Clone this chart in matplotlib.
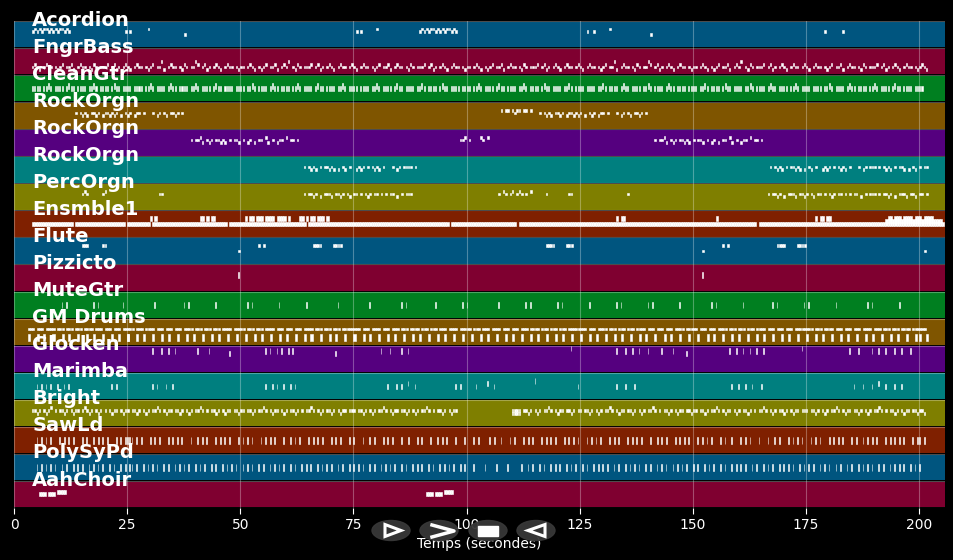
import matplotlib
matplotlib.use("Agg")
import matplotlib.pyplot as plt
from matplotlib.patches import Ellipse, Polygon, Rectangle

tracks = ["Acordion", "FngrBass", "CleanGtr", "RockOrgn", "RockOrgn", "RockOrgn",
          "PercOrgn", "Ensmble1", "Flute", "Pizzicto", "MuteGtr", "GM Drums",
          "Glocken", "Marimba", "Bright", "SawLd", "PolySyPd", "AahChoir"]

band_colors = ["#00557f", "#7f0030", "#007f20", "#7f5500", "#55007f", "#007f7f",
               "#7f7f00", "#7f2000", "#00557f", "#7f0030", "#007f20", "#7f5500",
               "#55007f", "#007f7f", "#7f7f00", "#7f2000", "#00557f", "#7f0030"]

# notes read off the roll: (start second, pattern[, height])
# one character = half a second, digit = pitch height inside the band (tenths), "." = rest
acordion = [(4.0, "67676776767677676"), (24.5, "6.6"), (29.5, "7"), (37.5, "5"),
            (75.5, "6.6"), (80.0, "7"), (89.5, "67676776767677676"), (126.5, "6..6"),
            (131.5, "7"), (140.5, "5"), (179.0, "6"), (183.0, "6")]

fngrbass = [(4.0, "3432.3433.3234.3342.3433.3243.3334.3423.34"),
            (25.0, "32.3433.3234.3352.3433.3243.3354.3423.3432.3433.32"),
            (50.0, "33.3432.3234.3342.3435.3243.3334.3423.3432.3433.34"),
            (75.0, "32.3433.3234.3342.3433.3243.3334.3423.3432.3433.32"),
            (100.0, "33.3432.3234.3342.3433.3243.3334.3423.3432.3433.34"),
            (125.0, "32.3433.3234.3352.3433.3243.3354.3423.3432.3433.32"),
            (150.0, "33.3432.3234.3342.3435.3243.3334.3423.3432.3433.34"),
            (175.0, "32.3433.3234.3342.3433.3243.3334.3423.3432.3433.32"),
            (200.0, "3432.")]

cleangtr = [(4.0, "5555.5565.5555.5655.5555.5565.5555.5655.55"),
            (25.0, "55.5555.5565.5555.5655.5555.5565.5555.5655.5555.55"),
            (50.0, "55.5565.5555.5655.5555.5565.5555.5655.5555.5565.55"),
            (75.0, "55.5555.5565.5555.5655.5555.5565.5555.5655.5555.55"),
            (100.0, "55.5565.5555.5655.5555.5565.5555.5655.5555.5565.55"),
            (125.0, "55.5555.5565.5555.5655.5555.5565.5555.5655.5555.55"),
            (150.0, "55.5565.5555.5655.5555.5565.5555.5655.5555.5565.55"),
            (175.0, "55.5555.5565.5555.5655.5555.5565.5555.5655.5555.55"),
            (200.0, "55")]

rockorgn1 = [(13.5, "6.6565.6656.5665656.5.656.566.6"), (30.5, "6.56.65.6656.6"),
             (107.5, "7.77.7677.77.7"), (116.0, "6.6565.6656.5665656.5.656.566.6"),
             (133.0, "6.56.65.6656.6")]

rockorgn2 = [(39.0, "6.6675.656.66565.6.665.6.56.5.66.75.6.566.7.66.6"),
             (98.5, "667.6....76.7"),
             (141.5, "6.6675.656.66565.6.665.6.56.5.66.75.6.566.7.66.6")]

rockorgn3 = [(64.0, "6.6565.6.66565.5.65.6..5656.6.6565.6...6.56.6666.6"),
             (167.0, "6.6565.6.66565.5.65.6..5656.6.6565.6...6.56.666.6.6565.6.665.5.65.6.66")]

percorgn = [(15.0, "676"), (19.5, "67"), (32.0, "66"),
            (64.0, "6.6656.5.6665.6656.65.66.6.656.66.6.6.66.5.6.666"),
            (107.0, "6.76.67.676.6.7"), (117.5, "6"), (122.5, "66"), (135.5, "6"),
            (166.5, "6.6656.5.6665.6656.65.66.6.656.66.6.6.66.5.6.666.6.6656.5.6665.665.66.6")]

ensmble1 = [(4.0, "555555555555555555.5555555555555555555555"),
            (25.0, "5555555555.555555555555555555555555555555555.55555"),
            (50.0, "55555555555555555555555555555.55555555555555555555"),
            (75.0, "555555555555555555555555555555555555555555.5555555"),
            (100.0, "5555555555555555555555.555555555555555555555555555"),
            (125.0, "55555555555555555555555555555555555555555555555555"),
            (150.0, "5555555555555555555555555555.555555555555555555555"),
            (175.0, "55555555555555555555555555555555555555555555555555"),
            (200.0, "55555555555"),
            (30.0, "7.7"), (41.0, "77.7.77"), (51.0, "7.77.777.7777.7777.7"),
            (63.0, "77.7.77.777.7"), (133.0, "7.77"), (155.0, "7"),
            (177.0, "7.77.77"), (192.5, "6666666666666666666666666"),
            (193.0, "77.777.7777.777.7777")]

flute = [(15.0, "777"), (19.5, "77"), (49.5, "5"), (54.0, "7.7"), (66.0, "7777"),
         (70.5, "7777"), (117.5, "7777"), (122.0, "777"), (152.0, "5"), (156.5, "7.7"),
         (168.5, "7777"), (173.0, "7777"), (201.0, "5")]

pizzicto = [(49.5, "6"), (152.0, "6")]

mutegtr = [(10.5, "5.5"), (17.5, "5.5"), (24.0, "5"), (31.0, "5"), (37.5, "5.5"),
           (44.5, "5"), (51.5, "5.5"), (58.5, "5"), (64.5, "5"), (71.5, "5"),
           (78.5, "5"), (85.5, "5.5"), (93.0, "5"), (99.0, "5.5"), (107.0, "5"),
           (113.0, "5.5"), (120.0, "5.5"), (127.0, "5"), (133.0, "5.5"), (140.0, "5.5"),
           (147.0, "5"), (154.0, "5.5"), (161.0, "5"), (167.5, "5.5"), (174.5, "5.5"),
           (181.5, "5"), (188.5, "5.5"), (195.5, "5")]

gm_drums = [(3.0, "666.666.6666.666.666.666.6666.666.666.666.66"),
            (25.0, "666.666.6666.666.666.666.6666.666.666.666.6666.666"),
            (50.0, "66.666.666.6666.666.666.666.6666.666.666.666.66666"),
            (75.0, "666.666.6666.666.666.666.6666.666.666.666.6666.666"),
            (100.0, "66.666.666.6666.666.666.666.6666.666.666.666.66666"),
            (125.0, "666.666.6666.666.666.666.6666.666.666.666.6666.666"),
            (150.0, "66.666.666.6666.666.666.666.6666.666.666.666.66666"),
            (175.0, "666.666.6666.666.666.666.6666.666.666.666.6666.666"),
            (200.0, "666"),
            (3.0, "3...3..3...3...3..3...3...3..3...3...3..3...3", 0.28),
            (25.0, "3...3..3...3...3..3...3...3..3...3...3..3...3...3.", 0.28),
            (50.0, "..3...3..3...3...3..3...3...3..3...3...3..3...3...", 0.28),
            (75.0, "3...3..3...3...3..3...3...3..3...3...3..3...3...3.", 0.28),
            (100.0, "..3...3..3...3...3..3...3...3..3...3...3..3...3...", 0.28),
            (125.0, "3...3..3...3...3..3...3...3..3...3...3..3...3...3.", 0.28),
            (150.0, "..3...3..3...3...3..3...3...3..3...3...3..3...3...", 0.28),
            (175.0, "3...3..3...3...3..3...3...3..3...3...3..3...3...3.", 0.28),
            (200.0, "3..3", 0.28)]

glocken = [(30.5, "8...8..8..8"), (40.5, "8....8"), (47.5, "7"), (55.5, "8.8..8.8..8.8"),
           (71.0, "7"), (81.0, "8...8....8..8"), (123.0, "9"), (133.0, "8...8..8..8...8"),
           (143.0, "8....8"), (148.5, "7"), (158.0, "8..8..8..8..8..8"), (174.0, "9"),
           (184.5, "8...8.....8..8..8...8..8...8")]

marimba = [(5.0, "5.5.5.5..5..5.5"), (21.5, "5.5"), (30.5, "5.5...5..5"),
           (55.5, "5..5.5..5..5.5"), (82.5, "5...5.5..6..5"), (97.5, "5.5"),
           (102.0, "5....6..5"), (115.0, "7"), (124.5, "5"), (133.0, "5...5...5"),
           (158.5, "5..5..5..5...5"), (185.5, "5...5...5..6..5...5..5")]

bright = [(4.0, "6656.6567.6.6656.6566.67656.656.6.6566.656"),
          (25.0, "6.6656.656.6676.6566.6656.656.6676.6.6656.6566.665"),
          (50.0, "66.6656.6676.6566.656.6656.6.6676.656.6656.6566.66"),
          (75.0, "6.6656.656.6676.6566.6656.656.6676.6.6656.6566"),
          (110.0, "5555.6656.656.6676.6566.6656.6"), (110.0, "6666"),
          (125.0, "6.6656.656.6676.6566.6656.656.6676.6.6656.6566.665"),
          (150.0, "66.6656.6676.6566.656.6656.6.6676.656.6656.6566.66"),
          (175.0, "6.6656.656.6676.6566.6656.656.6676.6.6656.6566.665"),
          (200.0, "665")]

sawld = [(5.0, "5.5.5.5...5.5.5.5...5.5..5.5.5.5...5.5.5.5"),
         (25.0, "5.5.5.5...5.5.5...5.5.5.5...5..5.5.5...5.5.5.5...5"),
         (50.0, ".5.5.5...5.5.5.5...5..5.5.5...5.5.5.5...5.5.5...5."),
         (75.0, "5...5..5.5...5.5.5...5..5...5.5...5..5.5.5...5...5"),
         (100.0, "...5.5....5.5..5...5.5...5.5.5...5.5.5.5...5.5.5.5"),
         (125.0, "...5.5.5.5...5.5.5...5.5.5.5...5..5.5.5...5.5.5.5."),
         (150.0, "..5.5.5.5...5.5..5...5.5.5...5...5..5.5...5.5.5.5."),
         (175.0, "..5.5.5...5.5.5.5...5.5..5.5.5.5...5.5.5.5.5...5.5"),
         (200.0, "5.5")]

polysypd = [(5.0, "5.5.5.5.5..5.5..5.5.5..5.5.5.5..5.5..5.5.5"),
            (25.0, "..5.5..5.5.5.5..5.5..5.5.5.5..5.5.5..5.5..5.5.5.5."),
            (50.0, ".5.5.5..5.5..5.5.5.5..5.5..5.5.5..5.5.5.5..5.5..5."),
            (75.0, "5.5.5..5.5..5.5.5.5..5.5..5.5.5..5.5..5.5.5.5..5.5"),
            (100.0, "...5....5....5....5.....5..5.5..5.5..5.5.5..5.5.5."),
            (125.0, ".5.5..5.5.5.5..5.5..5.5.5.5..5.5..5.5.5..5.5.5.5.."),
            (150.0, "5.5..5.5.5..5.5..5.5.5.5..5.5..5.5.5..5.5.5.5..5.5"),
            (175.0, ".5.5..5.5.5..5.5..5.5..5.5.5.5..5.5..5.5.5.5..5.5."),
            (200.0, "5")]

aahchoir = [(5.5, "555.555.6666"), (91.0, "555.555.6666")]

track_notes = [acordion, fngrbass, cleangtr, rockorgn1, rockorgn2, rockorgn3,
               percorgn, ensmble1, flute, pizzicto, mutegtr, gm_drums,
               glocken, marimba, bright, sawld, polysypd, aahchoir]

# per track: (filled part of the half-second step, note height in band units)
note_look = [(0.8, 0.1), (0.6, 0.1), (0.45, 0.2), (0.7, 0.1), (0.7, 0.1), (0.7, 0.1),
             (0.7, 0.1), (1.0, 0.16), (0.8, 0.1), (0.3, 0.22), (0.3, 0.2), (0.9, 0.07),
             (0.3, 0.2), (0.3, 0.2), (0.6, 0.12), (0.35, 0.28), (0.3, 0.28), (1.0, 0.15)]

fig = plt.figure(figsize=(9.54, 5.6), dpi=100, facecolor="black")
ax = fig.add_axes([0.0147, 0.0929, 0.9759, 0.8696])
ax.set_facecolor("black")

n = len(tracks)
xmax = 205.7
for i, (name, col, phrases, look) in enumerate(zip(tracks, band_colors, track_notes, note_look)):
    base = n - 1 - i
    ax.barh(base + 0.5, xmax, height=0.95, left=0, color=col, zorder=1)
    xs, ws, ys, hs = [], [], [], []
    for ph in phrases:
        start, pat = ph[0], ph[1]
        h = ph[2] if len(ph) > 2 else look[1]
        for k, c in enumerate(pat):
            if c == ".":
                continue
            xs.append(start + 0.5 * k)
            ws.append(0.5 * look[0])
            ys.append(base + int(c) / 10 - h / 2)
            hs.append(h)
    ax.bar(xs, hs, width=ws, bottom=ys, align="edge", color="white",
           edgecolor="white", linewidth=0.4, zorder=3)
    ax.text(4.0, base + 1 - 0.17, name, color="white", fontsize=14,
            fontweight="bold", ha="left", va="baseline", zorder=5)

ax.set_xlim(0, xmax)
ax.set_ylim(0, n)
ax.set_xticks(range(0, 201, 25))
ax.set_yticks(range(n + 1))
ax.set_yticklabels([])
ax.tick_params(axis="y", length=0)
ax.tick_params(axis="x", colors="white", labelsize=10, length=4)
ax.grid(True, color="white", alpha=0.3, linewidth=0.8)
ax.set_axisbelow(False)
for s in ax.spines.values():
    s.set_visible(False)
ax.set_xlabel("Temps (secondes)", color="white", fontsize=10, labelpad=3)

# player controls drawn over the axis label
ov = fig.add_axes([0, 0, 1, 1])
ov.set_xlim(0, 954)
ov.set_ylim(560, 0)
ov.axis("off")
ov.patch.set_alpha(0)
for cx in [391, 439, 488, 536]:
    ov.add_patch(Ellipse((cx, 530.5), 38, 20, color="#383838", alpha=0.95))
ov.add_patch(Polygon([(385, 524.5), (385, 536.5), (401, 530.5)], closed=True,
                     fill=False, edgecolor="white", linewidth=2.2))
ov.plot([432, 454, 432], [525, 531, 537], color="white", linewidth=2.5)
ov.add_patch(Rectangle((478, 526), 20, 10, color="white"))
ov.add_patch(Polygon([(545, 524.5), (545, 536.5), (528, 530.5)], closed=True,
                     fill=False, edgecolor="white", linewidth=2.2))

fig.savefig("out.png", dpi=100, facecolor="black")
